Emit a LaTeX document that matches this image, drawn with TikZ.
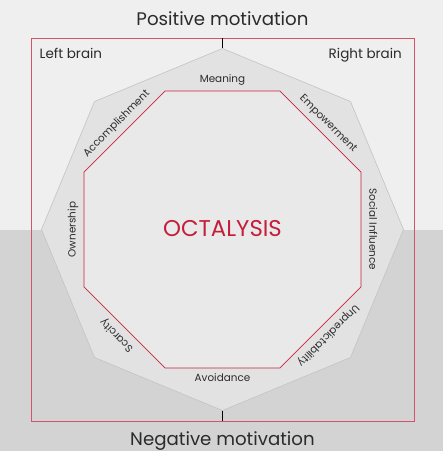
\documentclass[tikz,border=0pt]{standalone}
\usepackage{fontspec}
\setmainfont{Poppins}
\usetikzlibrary{shapes.geometric}
\definecolor{bgtop}{HTML}{EFEFEF}
\definecolor{bgbot}{HTML}{D3D3D3}
\definecolor{bandgray}{HTML}{E2E2E2}
\definecolor{coregray}{HTML}{E9E9E9}
\definecolor{edgegray}{HTML}{C3C3C3}
\definecolor{framered}{HTML}{D4536A}
\definecolor{corered}{HTML}{C8243F}
\definecolor{octared}{HTML}{C41E3A}
\definecolor{inktext}{HTML}{2B2B2B}

\begin{document}
\begin{tikzpicture}[x=1pt,y=1pt,
    drive/.style={font=\fontsize{10.4}{11}\selectfont, text=inktext, inner sep=0pt, anchor=mid},
    heading/.style={font=\fontsize{18.2}{20}\selectfont, text=inktext, inner sep=0pt, anchor=base},
    side/.style={font=\fontsize{13.5}{15}\selectfont, text=inktext, inner sep=0pt}]
  \fill[bgtop] (-222.5,0) rectangle (220.5,229.5);
  \fill[bgbot] (-222.5,-221.5) rectangle (220.5,0);
  \useasboundingbox (-222.5,-221.5) rectangle (220.5,229.5);

  \node[draw=framered, line width=0.8pt, minimum size=383pt, inner sep=0pt, outer sep=0pt] (frame) at (0,0) {};
  \node[regular polygon, regular polygon sides=8, shape border rotate=22.5, minimum size=362pt,
        inner sep=0pt, outer sep=0pt, draw=edgegray, fill=bandgray, line width=0.6pt] (outer) at (0,0) {};
  \node[regular polygon, regular polygon sides=8, minimum size=300pt,
        inner sep=0pt, outer sep=0pt, draw=corered, fill=coregray, line width=0.7pt] (inner) at (0,0) {};
  \draw[line width=1.4pt] (outer.90) -- (outer.90 |- frame.north);
  \draw[line width=1.4pt] (outer.270) -- (outer.270 |- frame.south);

  \node[heading] (positive) at (0,204.5) {Positive motivation};
  \node[heading] (negative) at (0,-215.5) {Negative motivation};
  \node[side, anchor=base west] (leftbrain) at (-183,171) {Left brain};
  \node[side, anchor=base east] (rightbrain) at (179.5,171) {Right brain};
  \node[font=\fontsize{22.8}{24}\selectfont, text=octared, inner sep=0pt, anchor=base] (octalysis) at (0,-7) {OCTALYSIS};

  \node[drive] (meaning) at (90:149.5) {Meaning};
  \node[drive, rotate=-45] (empower) at (45:149.5) {Empowerment};
  \node[drive, rotate=-90] (social) at (0:149.5) {Social Influence};
  \node[drive, rotate=-135] (unpredict) at (-45:149.5) {Unpredictability};
  \node[drive] (avoid) at (-90:149.5) {Avoidance};
  \node[drive, rotate=135] (scarcity) at (-135:149.5) {Scarcity};
  \node[drive, rotate=90] (owner) at (180:149.5) {Ownership};
  \node[drive, rotate=45] (accomp) at (135:149.5) {Accomplishment};
\end{tikzpicture}
\end{document}
